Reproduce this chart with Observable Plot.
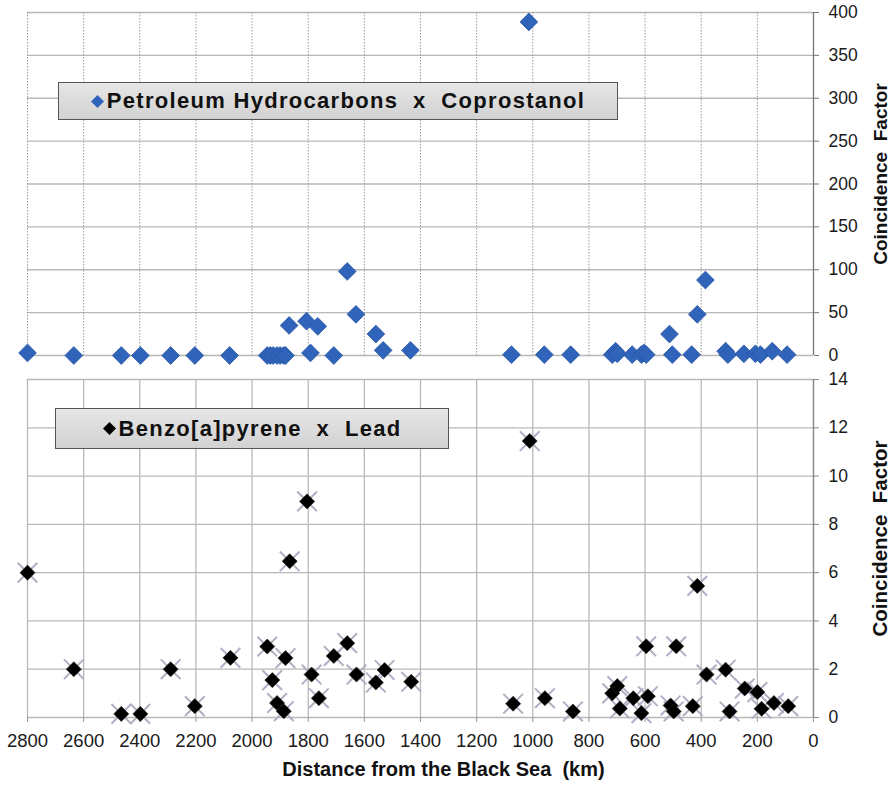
<!DOCTYPE html>
<html>
<head>
<meta charset="utf-8">
<script src="https://cdn.jsdelivr.net/npm/d3@7"></script>
<script src="https://cdn.jsdelivr.net/npm/@observablehq/plot@0.6"></script>
<style>
  html, body { margin: 0; padding: 0; background: #fff; }
  #wrap { position: relative; width: 895px; height: 791px; font-family: "Liberation Sans", Arial, sans-serif; }
  #wrap svg { display: block; }
  .legend { position: absolute; box-sizing: border-box; border: 1.5px solid #555;
    background: linear-gradient(#e6e6e6, #d2d2d2); display: flex; align-items: center; justify-content: center;
    font-weight: bold; color: #111; white-space: pre; letter-spacing: 1.3px; }
  .legend svg { display: inline-block; margin-right: 3px; }
</style>
</head>
<body>
<div id="wrap"></div>
<script>
// ---- data ----
const xTicks = [0, 200, 400, 600, 800, 1000, 1200, 1400, 1600, 1800, 2000, 2200, 2400, 2600, 2800];
const topTicks = [0, 50, 100, 150, 200, 250, 300, 350, 400];
const bottomTicks = [0, 2, 4, 6, 8, 10, 12, 14];

const topSeries = "Petroleum Hydrocarbons  x  Coprostanol";
const topDistance = [2800, 2635, 2466, 2398, 2290, 2204, 2080,
  1946, 1935, 1925, 1911, 1900, 1887, 1881,
  1868, 1806, 1766, 1792, 1709, 1661, 1630, 1559, 1533, 1436,
  1076, 1014, 959, 865,
  717, 705, 699, 646, 613, 604, 596, 513, 503, 434, 414, 385,
  313, 305, 248, 207, 189, 147, 94];
const topFactor = [3, 0, 0, 0, 0, 0, 0,
  0, 0, 0, 0, 0, 0, 0,
  35, 40, 34, 3, 0, 98, 48, 25, 6, 6,
  1, 389, 1, 1,
  1, 5, 2, 1, 1, 3, 1, 25, 1, 1, 48, 88,
  5, 1, 2, 2, 1, 5, 1];

const bottomSeries = "Benzo[a]pyrene  x  Lead";
const bottomDistance = [2800, 2635, 2466, 2398, 2290, 2204, 2077,
  1946, 1928, 1911, 1887, 1881, 1866, 1804, 1788, 1762, 1709, 1661, 1628, 1559, 1528, 1433,
  1070, 1011, 957, 857,
  717, 699, 690, 642, 613, 596, 590, 509, 498, 489, 430, 414, 381,
  313, 299, 245, 200, 185, 141, 90];
const bottomFactor = [6, 2, 0.15, 0.15, 2, 0.47, 2.47,
  2.94, 1.55, 0.6, 0.26, 2.46, 6.47, 8.95, 1.78, 0.8, 2.55, 3.08, 1.78, 1.45, 1.97, 1.48,
  0.57, 11.45, 0.8, 0.25,
  1.0, 1.3, 0.37, 0.8, 0.18, 2.95, 0.88, 0.5, 0.25, 2.95, 0.47, 5.45, 1.78,
  1.98, 0.25, 1.2, 1.05, 0.36, 0.6, 0.47];

// ---- layout ----
const FONT = "Liberation Sans, Arial, sans-serif";
const W = 895, ML = 27, MR = 82;
const gridColor = "#b8b8b8";

const topData = topDistance.map((d, i) => ({d, v: topFactor[i]}));
const bottomData = bottomDistance.map((d, i) => ({d, v: bottomFactor[i]}));

const topPlot = Plot.plot({
  width: W, height: 366,
  marginLeft: ML, marginRight: MR, marginTop: 12, marginBottom: 11,
  style: {fontFamily: FONT, background: "transparent", overflow: "visible"},
  x: {domain: [2800, 0], axis: null},
  y: {domain: [0, 400], axis: null},
  marks: [
    Plot.ruleY(topTicks, {stroke: gridColor, strokeWidth: 1.3}),
    Plot.ruleX(xTicks, {stroke: "#9a9a9a", strokeDasharray: "1.5,1.5", strokeWidth: 1}),
    Plot.ruleX([0], {y1: 0, y2: 400, stroke: "#777", strokeWidth: 1.3}),
    Plot.axisY(topTicks, {anchor: "right", tickSize: 5, tickPadding: 10, label: null,
      fontSize: 17.5, stroke: "#777", fill: "#1a1a1a", tickFormat: d => String(d)}),
    Plot.text([ "Coincidence  Factor" ], {frameAnchor: "right", textAnchor: "middle", dx: 67, dy: -10, rotate: -90,
      fontSize: 19, fontWeight: "bold", fill: "#111"}),
    Plot.dot(topData, {x: "d", y: "v", symbol: "diamond2", r: 8, fill: "#2f64ba", stroke: "#2856a3", strokeWidth: 0.8})
  ]
});

const bottomPlot = Plot.plot({
  width: W, height: 425,
  marginLeft: ML, marginRight: MR, marginTop: 13, marginBottom: 74,
  style: {fontFamily: FONT, background: "transparent", overflow: "visible"},
  x: {domain: [2800, 0], axis: null},
  y: {domain: [0, 14], axis: null},
  marks: [
    Plot.ruleY(bottomTicks, {stroke: gridColor, strokeWidth: 1.3}),
    Plot.ruleX(xTicks, {stroke: gridColor, strokeWidth: 1.3}),
    Plot.ruleX([0], {y1: 0, y2: 14, stroke: "#888", strokeWidth: 1.3}),
    Plot.axisY(bottomTicks, {anchor: "right", tickSize: 5, tickPadding: 10, label: null,
      fontSize: 17.5, stroke: "#888", fill: "#1a1a1a", tickFormat: d => String(d)}),
    Plot.axisX(xTicks, {anchor: "bottom", tickSize: 5, tickPadding: 11, label: null,
      fontSize: 18.5, stroke: "#999", fill: "#1a1a1a", tickFormat: d => String(d)}),
    Plot.text([ "Coincidence  Factor" ], {frameAnchor: "right", textAnchor: "middle", dx: 67, dy: -10, rotate: -90,
      fontSize: 20.5, fontWeight: "bold", fill: "#111"}),
    Plot.text([ "Distance from the Black Sea  (km)" ], {frameAnchor: "bottom", textAnchor: "middle", dx: 23, dy: 58,
      fontSize: 20, fontWeight: "bold", fill: "#111", letterSpacing: "1px"}),
    Plot.dot(bottomData, {x: "d", y: "v", symbol: "times", r: 9, stroke: "#b0b0c4", strokeWidth: 2}),
    Plot.dot(bottomData, {x: "d", y: "v", symbol: "diamond2", r: 6.8, fill: "#000", stroke: "#222", strokeWidth: 0.6})
  ]
});

const wrap = document.getElementById("wrap");
wrap.appendChild(topPlot);
wrap.appendChild(bottomPlot);

function legend(text, color, left, top, width, height, fontSize) {
  const div = document.createElement("div");
  div.className = "legend";
  Object.assign(div.style, {left: left + "px", top: top + "px", width: width + "px", height: height + "px", fontSize: fontSize + "px"});
  const s = 13;
  div.innerHTML = `<svg width="${s}" height="${s}" viewBox="0 0 ${s} ${s}"><polygon points="${s/2},0 ${s},${s/2} ${s/2},${s} 0,${s/2}" fill="${color}"/></svg>`;
  const span = document.createElement("span");
  span.textContent = text;
  div.appendChild(span);
  wrap.appendChild(div);
}
legend(topSeries, "#2f64ba", 58, 82, 560, 38, 22);
legend(bottomSeries, "#000", 55, 408, 394, 41, 22);
</script>
</body>
</html>
